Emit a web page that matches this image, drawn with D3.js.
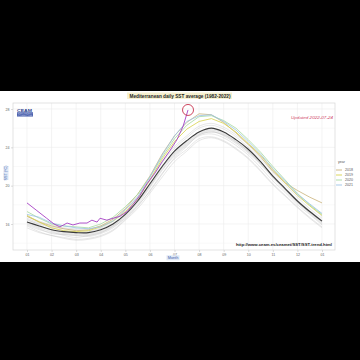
<!DOCTYPE html>
<html>
<head>
<meta charset="utf-8">
<script src="https://cdn.jsdelivr.net/npm/d3@7"></script>
<style>
  html, body { margin: 0; padding: 0; background: #000; }
  svg { display: block; font-family: "Liberation Sans", Arial, sans-serif; }
</style>
</head>
<body>
<div id="chart"></div>
<script>
// ------------------------------------------------------------------
// data (month position: 0 = 1 Jan, 12 = 31 Dec)
// ------------------------------------------------------------------
const halfMonths = [0, 0.5, 1, 1.5, 2, 2.5, 3, 3.5, 4, 4.5, 5, 5.5, 6, 6.5, 7, 7.5, 8, 8.5, 9, 9.5, 10, 10.5, 11, 11.5, 12];
const monthTicks = [0, 1, 2, 3, 4, 5, 6, 7, 8, 9, 10, 11, 12];
const monthLabels = ["01", "02", "03", "04", "05", "06", "07", "08", "09", "10", "11", "12", "01"];
const sstTicks = [16, 20, 24, 28];

// climatological mean (black)
const meanSST = [16.2, 15.8, 15.4, 15.2, 15.1, 15.1, 15.4, 16.0, 17.0, 18.4, 20.2, 22.0, 23.6, 24.7, 25.6, 26.0, 25.6, 24.8, 23.8, 22.5, 21.0, 19.7, 18.4, 17.3, 16.3];

// older years (grey band)
const greyYears = [
  [15.8, 15.2, 14.8, 14.6, 14.4, 14.5, 14.8, 15.4, 16.5, 17.8, 19.5, 21.3, 22.8, 23.8, 24.9, 25.1, 24.7, 23.9, 22.9, 21.6, 20.2, 19.0, 17.8, 16.7, 15.7],
  [16.0, 15.5, 15.0, 14.9, 14.8, 14.7, 15.0, 15.6, 16.7, 18.0, 19.8, 21.6, 23.1, 24.2, 25.2, 25.4, 25.0, 24.2, 23.2, 21.9, 20.5, 19.3, 18.0, 17.0, 15.9],
  [16.5, 15.9, 15.3, 15.0, 14.9, 14.9, 15.2, 15.8, 16.8, 18.2, 19.9, 21.9, 23.3, 24.4, 25.4, 25.7, 25.2, 24.4, 23.4, 22.2, 20.8, 19.5, 18.2, 17.2, 16.2],
  [16.1, 15.6, 15.2, 14.8, 14.6, 14.8, 15.1, 15.7, 16.6, 17.9, 19.4, 21.2, 22.9, 24.1, 25.3, 25.6, 25.3, 24.5, 23.6, 22.3, 20.9, 19.6, 18.3, 17.1, 16.0],
  [16.4, 16.0, 15.6, 15.3, 15.1, 15.2, 15.5, 16.1, 17.1, 18.5, 20.2, 22.1, 23.5, 24.6, 25.6, 25.9, 25.5, 24.7, 23.7, 22.5, 21.1, 19.8, 18.5, 17.4, 16.4],
  [16.6, 16.1, 15.7, 15.5, 15.4, 15.3, 15.6, 16.3, 17.3, 18.8, 20.5, 22.4, 23.9, 25.0, 26.0, 26.3, 25.9, 25.1, 24.0, 22.8, 21.4, 20.1, 18.8, 17.6, 16.6],
  [15.9, 15.4, 15.1, 14.9, 14.8, 14.8, 15.1, 15.8, 16.9, 18.3, 20.0, 21.7, 23.2, 24.3, 25.3, 25.6, 25.3, 24.6, 23.5, 22.3, 20.9, 19.6, 18.3, 17.2, 16.1],
  [16.8, 16.3, 15.9, 15.6, 15.5, 15.5, 15.8, 16.4, 17.5, 18.9, 20.7, 22.6, 24.1, 25.2, 26.2, 26.5, 26.1, 25.3, 24.3, 23.1, 21.6, 20.3, 19.0, 17.9, 16.8],
  [15.6, 15.1, 14.8, 14.5, 14.3, 14.4, 14.7, 15.3, 16.4, 17.6, 19.2, 20.9, 22.5, 23.6, 24.7, 25.0, 24.6, 23.8, 22.8, 21.5, 20.1, 18.9, 17.7, 16.6, 15.6],
  [16.2, 15.7, 15.4, 15.1, 15.0, 15.0, 15.3, 15.9, 17.0, 18.4, 20.1, 21.9, 23.4, 24.5, 25.5, 25.8, 25.4, 24.6, 23.6, 22.4, 21.0, 19.7, 18.4, 17.3, 16.3]
];

// highlighted recent years
const legendYears = ["2018", "2019", "2020", "2021"];
const legendColors = ["#c9b27a", "#d8d24a", "#a6d9a0", "#9cc3e6"];
const sst2018 = [16.8, 16.2, 15.8, 15.5, 15.3, 15.4, 15.8, 16.5, 17.6, 19.1, 21.0, 23.3, 25.2, 26.6, 27.5, 27.4, 26.6, 25.5, 24.3, 23.0, 21.5, 20.3, 19.5, 18.8, 18.2];
const sst2019 = [16.9, 16.2, 15.6, 15.3, 15.2, 15.3, 15.7, 16.3, 17.3, 18.6, 20.6, 22.8, 24.6, 25.9, 26.7, 27.0, 26.5, 25.6, 24.4, 23.2, 21.7, 20.3, 19.0, 17.9, 16.9];
const sst2020 = [17.3, 16.6, 16.0, 15.8, 15.7, 15.6, 16.0, 16.7, 17.8, 19.1, 20.9, 23.0, 24.9, 26.3, 27.2, 27.3, 26.8, 26.0, 24.8, 23.5, 22.0, 20.6, 19.2, 18.0, 17.0];
const sst2021 = [17.0, 16.7, 16.1, 15.8, 15.6, 15.5, 15.7, 16.3, 17.5, 18.8, 20.9, 23.2, 25.2, 26.7, 27.3, 27.4, 26.7, 25.8, 24.6, 23.3, 21.8, 20.5, 19.1, 18.1, 17.1];
const recentYears = [sst2018, sst2019, sst2020, sst2021];

// current year 2022 (until 2022-07-24)
const days2022 = [0, 0.4, 0.8, 1.1, 1.34, 1.63, 1.87, 2.15, 2.44, 2.64, 2.85, 2.97, 3.25, 3.5, 3.78, 4.07, 4.3, 4.6, 4.88, 5.2, 5.5, 5.8, 6.1, 6.35, 6.55];
const sst2022 = [18.2, 17.4, 16.6, 16.0, 15.7, 16.1, 15.9, 16.1, 16.1, 16.4, 16.2, 16.6, 16.4, 16.6, 16.8, 17.3, 18.0, 19.0, 20.2, 21.3, 22.5, 23.6, 24.8, 26.2, 27.9];

// ------------------------------------------------------------------
const W = 360, H = 360;
const svg = d3.select("#chart").append("svg")
  .attr("width", W).attr("height", H);

svg.append("rect").attr("width", W).attr("height", H).attr("fill", "#000");
// white picture area
svg.append("rect").attr("x", 0).attr("y", 91).attr("width", W).attr("height", 171).attr("fill", "#fff");

const panel = {left: 13, right: 335, top: 103, bottom: 250};

const x = d3.scaleLinear().domain([0, 12]).range([27, 322]);
const y = d3.scaleLinear().domain([16, 28]).range([224, 109]);

// grid
const g = svg.append("g");
g.selectAll(".vgrid").data(monthTicks).enter().append("line")
  .attr("x1", d => x(d)).attr("x2", d => x(d))
  .attr("y1", panel.top).attr("y2", panel.bottom)
  .attr("stroke", "#ececec").attr("stroke-width", 0.6);
g.selectAll(".hminor").data([14, 18, 22, 26]).enter().append("line")
  .attr("x1", panel.left).attr("x2", panel.right)
  .attr("y1", d => y(d)).attr("y2", d => y(d))
  .attr("stroke", "#f3f3f3").attr("stroke-width", 0.5);
g.selectAll(".hgrid").data(sstTicks).enter().append("line")
  .attr("x1", panel.left).attr("x2", panel.right)
  .attr("y1", d => y(d)).attr("y2", d => y(d))
  .attr("stroke", "#ececec").attr("stroke-width", 0.6);
g.append("rect")
  .attr("x", panel.left).attr("y", panel.top)
  .attr("width", panel.right - panel.left).attr("height", panel.bottom - panel.top)
  .attr("fill", "none").attr("stroke", "#d6d6d6").attr("stroke-width", 0.7);

// axes (ticks + labels)
const xAxis = svg.append("g")
  .attr("transform", "translate(0," + panel.bottom + ")")
  .call(d3.axisBottom(x).tickValues(monthTicks).tickFormat((d, i) => monthLabels[i]).tickSize(2).tickPadding(1.5));
const yAxis = svg.append("g")
  .attr("transform", "translate(" + panel.left + ",0)")
  .call(d3.axisLeft(y).tickValues(sstTicks).tickSize(2).tickPadding(1.5));
[xAxis, yAxis].forEach(a => {
  a.select(".domain").remove();
  a.selectAll(".tick line").attr("stroke", "#bbb").attr("stroke-width", 0.5);
  a.selectAll(".tick text").attr("fill", "#666").style("font-size", "3.6px");
});

// lines
const lineHalf = d3.line()
  .x((d, i) => x(halfMonths[i]))
  .y(d => y(d))
  .curve(d3.curveCatmullRom);

const plot = svg.append("g");
plot.selectAll(".grey").data(greyYears).enter().append("path")
  .attr("d", lineHalf).attr("fill", "none")
  .attr("stroke", "#c4c4c4").attr("stroke-width", 0.5).attr("opacity", 0.8);

plot.selectAll(".recent").data(recentYears).enter().append("path")
  .attr("d", lineHalf.curve(d3.curveLinear)).attr("fill", "none")
  .attr("stroke", (d, i) => legendColors[i]).attr("stroke-width", 0.8);

plot.append("path").datum(meanSST)
  .attr("d", lineHalf.curve(d3.curveCatmullRom)).attr("fill", "none")
  .attr("stroke", "#3a3a3a").attr("stroke-width", 1.1);

const line2022 = d3.line()
  .x((d, i) => x(days2022[i]))
  .y(d => y(d));
plot.append("path").datum(sst2022)
  .attr("d", line2022).attr("fill", "none")
  .attr("stroke", "#a63fc4").attr("stroke-width", 0.9);

// red circle on last value
plot.append("circle")
  .attr("cx", x(days2022[days2022.length - 1]))
  .attr("cy", y(sst2022[sst2022.length - 1]))
  .attr("r", 5.5).attr("fill", "none")
  .attr("stroke", "#c8324e").attr("stroke-width", 0.9);

// title
svg.append("rect").attr("x", 127).attr("y", 92.5).attr("width", 105).attr("height", 6.5).attr("fill", "#f7f1cf");
svg.append("text").attr("x", 180).attr("y", 97.8).attr("text-anchor", "middle")
  .attr("textLength", 101).attr("lengthAdjust", "spacingAndGlyphs")
  .style("font-size", "5.2px").style("font-weight", "bold").attr("fill", "#222")
  .text("Mediterranean daily SST average (1982-2022)");

// updated note
svg.append("text").attr("x", 312).attr("y", 118.5).attr("text-anchor", "middle")
  .attr("textLength", 42).attr("lengthAdjust", "spacingAndGlyphs")
  .style("font-size", "4.4px").style("font-style", "italic").attr("fill", "#d04868")
  .text("Updated 2022-07-24");

// url
svg.append("text").attr("x", 332).attr("y", 246).attr("text-anchor", "end")
  .attr("textLength", 96).attr("lengthAdjust", "spacingAndGlyphs")
  .style("font-size", "4px").style("font-weight", "bold").attr("fill", "#222")
  .text("http://www.ceam.es/ceamet/SST/SST-trend.html");

// CEAM logo
svg.append("text").attr("x", 17).attr("y", 111.5)
  .attr("textLength", 15).attr("lengthAdjust", "spacingAndGlyphs")
  .style("font-size", "4.2px").style("font-weight", "bold").attr("fill", "#2b3f8c")
  .text("CEAM");
svg.append("rect").attr("x", 17).attr("y", 112.3).attr("width", 16).attr("height", 4.2).attr("fill", "#3d55a8");
[113.6, 115.2].forEach(yy => {
  svg.append("path")
    .attr("d", "M17.5," + yy + " q2,-0.8 4,0 t4,0 t4,0 t3,0")
    .attr("fill", "none").attr("stroke", "#fff").attr("stroke-width", 0.4);
});

// axis titles
svg.append("rect").attr("x", 3.5).attr("y", 166).attr("width", 5).attr("height", 14).attr("fill", "#dfe8f6");
svg.append("text").attr("transform", "translate(7.3,173) rotate(-90)")
  .attr("text-anchor", "middle").style("font-size", "3.8px").attr("fill", "#3b5fa8")
  .text("SST (°C)");
svg.append("rect").attr("x", 166.5).attr("y", 255.3).attr("width", 13).attr("height", 5).attr("fill", "#dfe8f6");
svg.append("text").attr("x", 173).attr("y", 259.1).attr("text-anchor", "middle")
  .style("font-size", "3.8px").attr("fill", "#3b5fa8")
  .text("Month");

// legend
const leg = svg.append("g").attr("transform", "translate(336,162)");
leg.append("text").attr("x", 2).attr("y", 1).style("font-size", "3.6px").attr("fill", "#555").text("year");
const item = leg.selectAll(".item").data(legendYears).enter().append("g")
  .attr("transform", (d, i) => "translate(0," + (8 + i * 5) + ")");
item.append("line").attr("x1", 0).attr("x2", 6).attr("y1", 0).attr("y2", 0)
  .attr("stroke", (d, i) => legendColors[i]).attr("stroke-width", 0.9);
item.append("text").attr("x", 9).attr("y", 1.3).style("font-size", "3.6px").attr("fill", "#555").text(d => d);
</script>
</body>
</html>
